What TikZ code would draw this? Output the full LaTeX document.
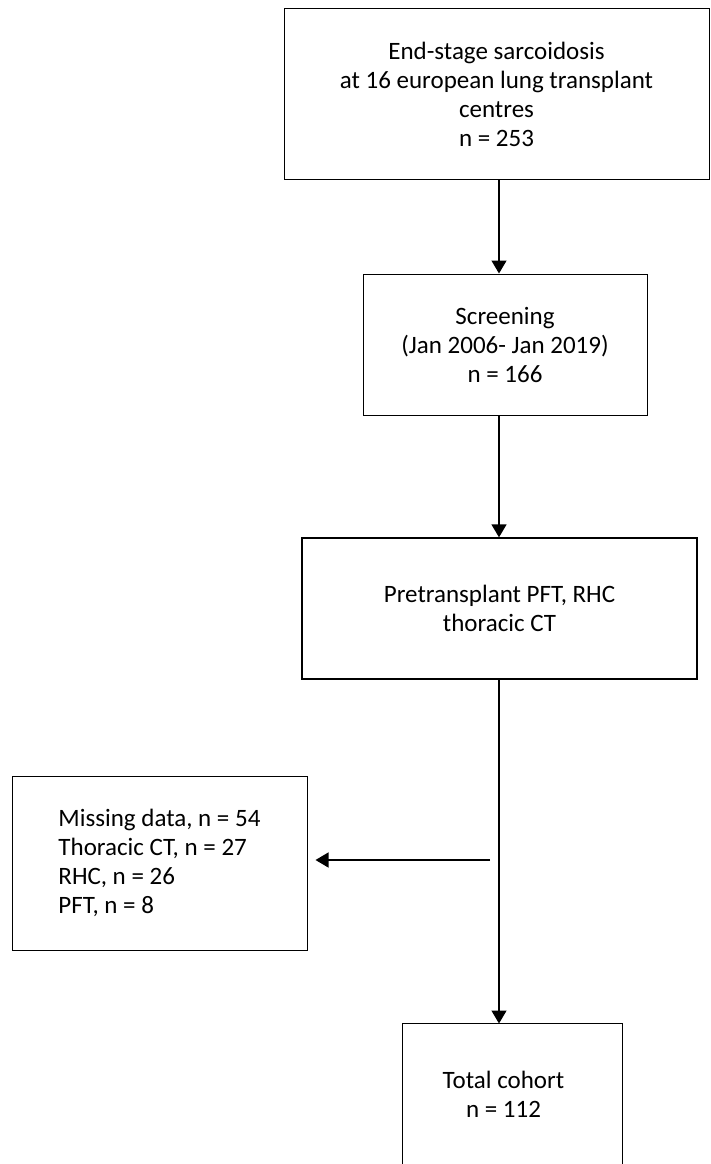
\documentclass[tikz,border=0pt]{standalone}
\usepackage{fontspec}
\setmainfont{Carlito}
\usetikzlibrary{arrows.meta}
\begin{document}
\begin{tikzpicture}[x=1pt,y=-1pt,
  box/.style={draw, line width=1pt, align=center, inner sep=0pt, font=\fontsize{25}{29}\selectfont},
  conn/.style={line width=1.4pt, -{Triangle[width=15pt,length=13pt]}}]
\useasboundingbox (0,0) rectangle (710,1164);
\node[box, minimum width=425, minimum height=170] (b1) at (496.5,94) {End-stage sarcoidosis\\at 16 european lung transplant\\centres\\n = 253};
\node[box, minimum width=284, minimum height=141] (b2) at (505,344.5) {Screening\\(Jan 2006- Jan 2019)\\n = 166};
\node[box, minimum width=395, minimum height=141, line width=1.3pt] (b3) at (499.5,608.5) {Pretransplant PFT, RHC\\thoracic CT};
\node[box, align=left, minimum width=295, minimum height=174] (lb) at (159.5,863) {Missing data, n = 54\\Thoracic CT, n = 27\\RHC, n = 26\\PFT, n = 8};
\node[box, draw=none, minimum width=219, minimum height=140] (b5) at (512.5,1094) {};
\node[box, draw=none] (b5t) at ([xshift=-9pt]b5.center) {Total cohort\\n = 112};
\draw[line width=1pt] (b5.south west) -- (b5.north west) -- (b5.north east) -- (b5.south east);
\coordinate (spine) at (499,0);
\draw[conn] (spine |- b1.south) -- (spine |- b2.north);
\draw[conn] (spine |- b2.south) -- (spine |- b3.north);
\draw[conn] (spine |- b3.south) -- (spine |- b5.north);
\coordinate (hs) at (490,860);
\draw[conn] (hs) -- ([xshift=8pt]hs -| lb.east);
\end{tikzpicture}
\end{document}
